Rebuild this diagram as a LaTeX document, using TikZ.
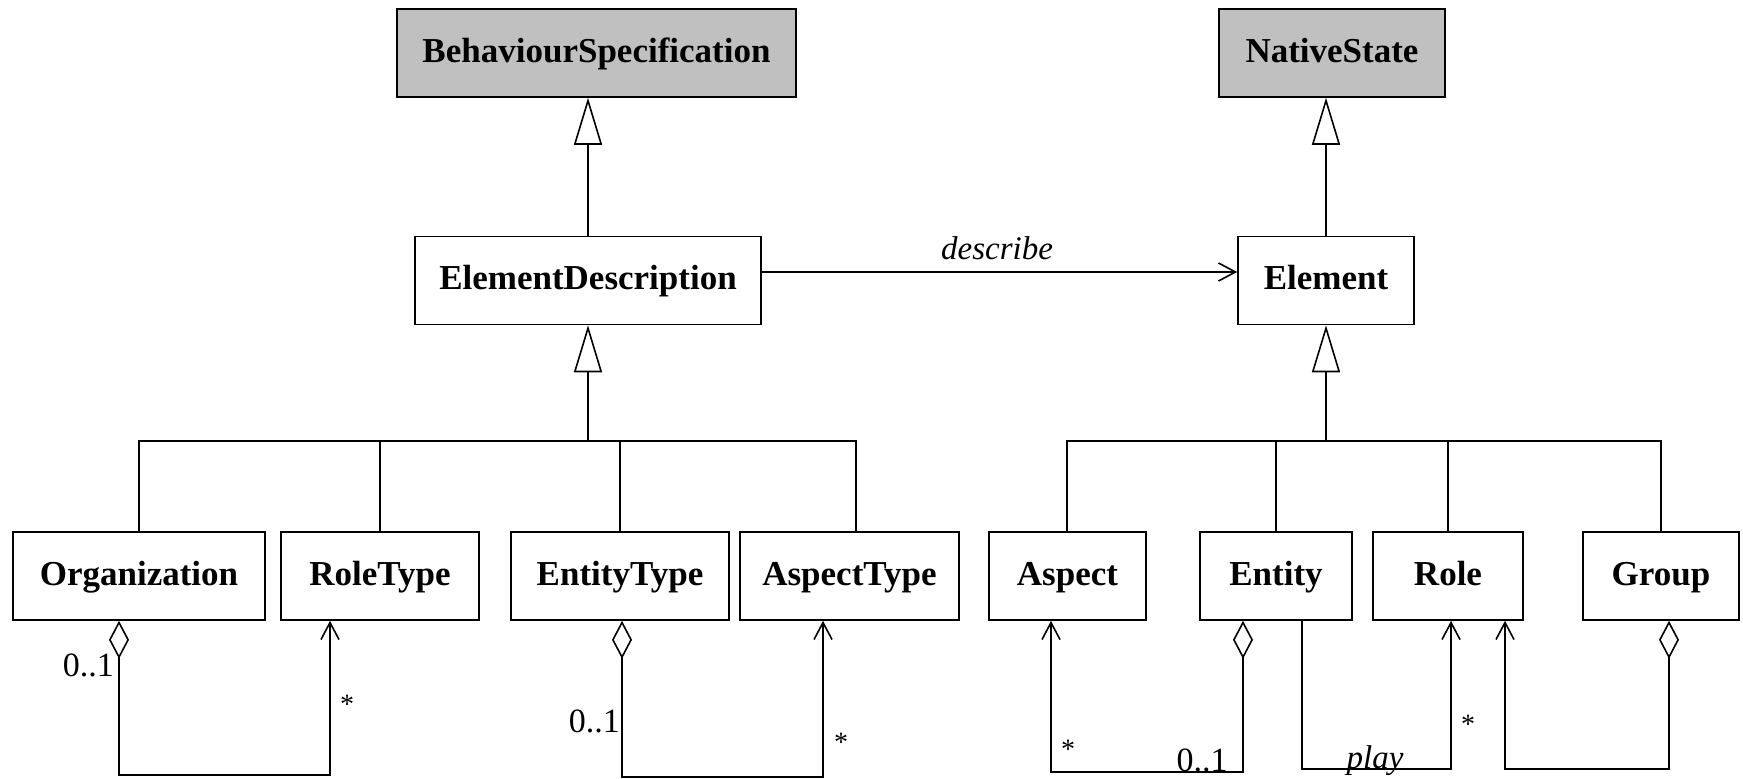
\documentclass[tikz,border=0pt]{standalone}
\usepackage{fontspec}
\setmainfont{Liberation Serif}
\usetikzlibrary{arrows.meta}
\definecolor{absgray}{HTML}{C0C0C0}
\begin{document}
\begin{tikzpicture}[x=1pt,y=-1pt,
  ln/.style={line width=1.6pt},
  cls/.style={draw,line width=1.6pt,inner sep=0pt,minimum height=88pt,text height=26pt,text depth=8pt,font=\bfseries\fontsize{35}{40}\selectfont},
  abscls/.style={cls,fill=absgray},
  gen/.style={ln,-{Triangle[open,length=47pt,width=28pt]}},
  nav/.style={ln,-{Straight Barb[length=17pt,width=18pt]}},
  agg/.style={ln,{Diamond[open,length=38pt,width=20pt]}-{Straight Barb[length=17pt,width=18pt]}},
  mult/.style={inner sep=0pt,font=\fontsize{34}{38}\selectfont},
  star/.style={inner sep=0pt,font=\fontsize{28}{30}\selectfont},
  assoc/.style={inner sep=0pt,font=\itshape\fontsize{33}{38}\selectfont}
]
\useasboundingbox (0,0) rectangle (1743,779);

% classes
\node[abscls,minimum width=399pt] (bs) at (596.5,53) {BehaviourSpecification};
\node[abscls,minimum width=226pt] (ns) at (1332,53) {NativeState};
\node[cls,minimum width=346pt] (ed) at (588,280.5) {ElementDescription};
\node[cls,minimum width=176pt] (el) at (1326,280.5) {Element};

\node[cls,minimum width=252pt] (org) at (139,576) {Organization};
\node[cls,minimum width=198pt] (rt) at (380,576) {RoleType};
\node[cls,minimum width=218pt] (et) at (620,576) {EntityType};
\node[cls,minimum width=219pt] (at) at (849.5,576) {AspectType};
\node[cls,minimum width=157pt] (asp) at (1067.5,576) {Aspect};
\node[cls,minimum width=152pt] (ent) at (1276,576) {Entity};
\node[cls,minimum width=150pt] (role) at (1448,576) {Role};
\node[cls,minimum width=156pt] (grp) at (1661,576) {Group};

% generalizations
\draw[gen] (ed.north) -- (bs.south -| ed.north);
\draw[gen] (el.north) -- (ns.south -| el.north);

\coordinate (lbar) at (588,441);
\coordinate (atx) at (856,441);
\draw[ln] (org.north) |- (atx) -- (at.north -| atx);
\draw[ln] (rt.north) -- (rt.north |- lbar);
\draw[ln] (et.north) -- (et.north |- lbar);
\draw[gen] (lbar) -- (ed.south);

\coordinate (rbar) at (1326,441);
\coordinate (aspx) at (1067,441);
\draw[ln] (asp.north -| aspx) -- (aspx) -- (rbar) -| (grp.north);
\draw[ln] (ent.north) -- (ent.north |- rbar);
\draw[ln] (role.north) -- (role.north |- rbar);
\draw[gen] (rbar) -- (el.south);

% describe
\coordinate (dy) at (1000,272);
\draw[nav] (ed.east |- dy) -- (el.west |- dy);
\node[assoc] (dl) at (997,248) {describe};

% associations
\coordinate (a1) at (119,775); \coordinate (b1) at (330,775);
\draw[agg] (org.south -| a1) -- (a1) -- (b1) -- (rt.south -| b1);
\node[mult,anchor=east] (m1) at (114,665) {0..1};
\node[star] (s1) at (347,704) {*};

\coordinate (a2) at (622,777); \coordinate (b2) at (823,777);
\draw[agg] (et.south -| a2) -- (a2) -- (b2) -- (at.south -| b2);
\node[mult,anchor=east] (m2) at (620,721) {0..1};
\node[star] (s2) at (841,742) {*};

\coordinate (a3) at (1243,772); \coordinate (b3) at (1051,772);
\draw[agg] (ent.south -| a3) -- (a3) -- (b3) -- (asp.south -| b3);
\node[star] (s3) at (1068,749) {*};
\node[mult,anchor=base] (m3) at (1202,771) {0..1};

\coordinate (a4) at (1302,769); \coordinate (b4) at (1451,769);
\draw[nav] (ent.south -| a4) -- (a4) -- (b4) -- (role.south -| b4);
\node[assoc,anchor=base] (pl) at (1375,768) {play};
\node[star] (s4) at (1468,724) {*};

\coordinate (a5) at (1669,769); \coordinate (b5) at (1505,769);
\draw[agg] (grp.south -| a5) -- (a5) -- (b5) -- (role.south -| b5);
\end{tikzpicture}
\end{document}
